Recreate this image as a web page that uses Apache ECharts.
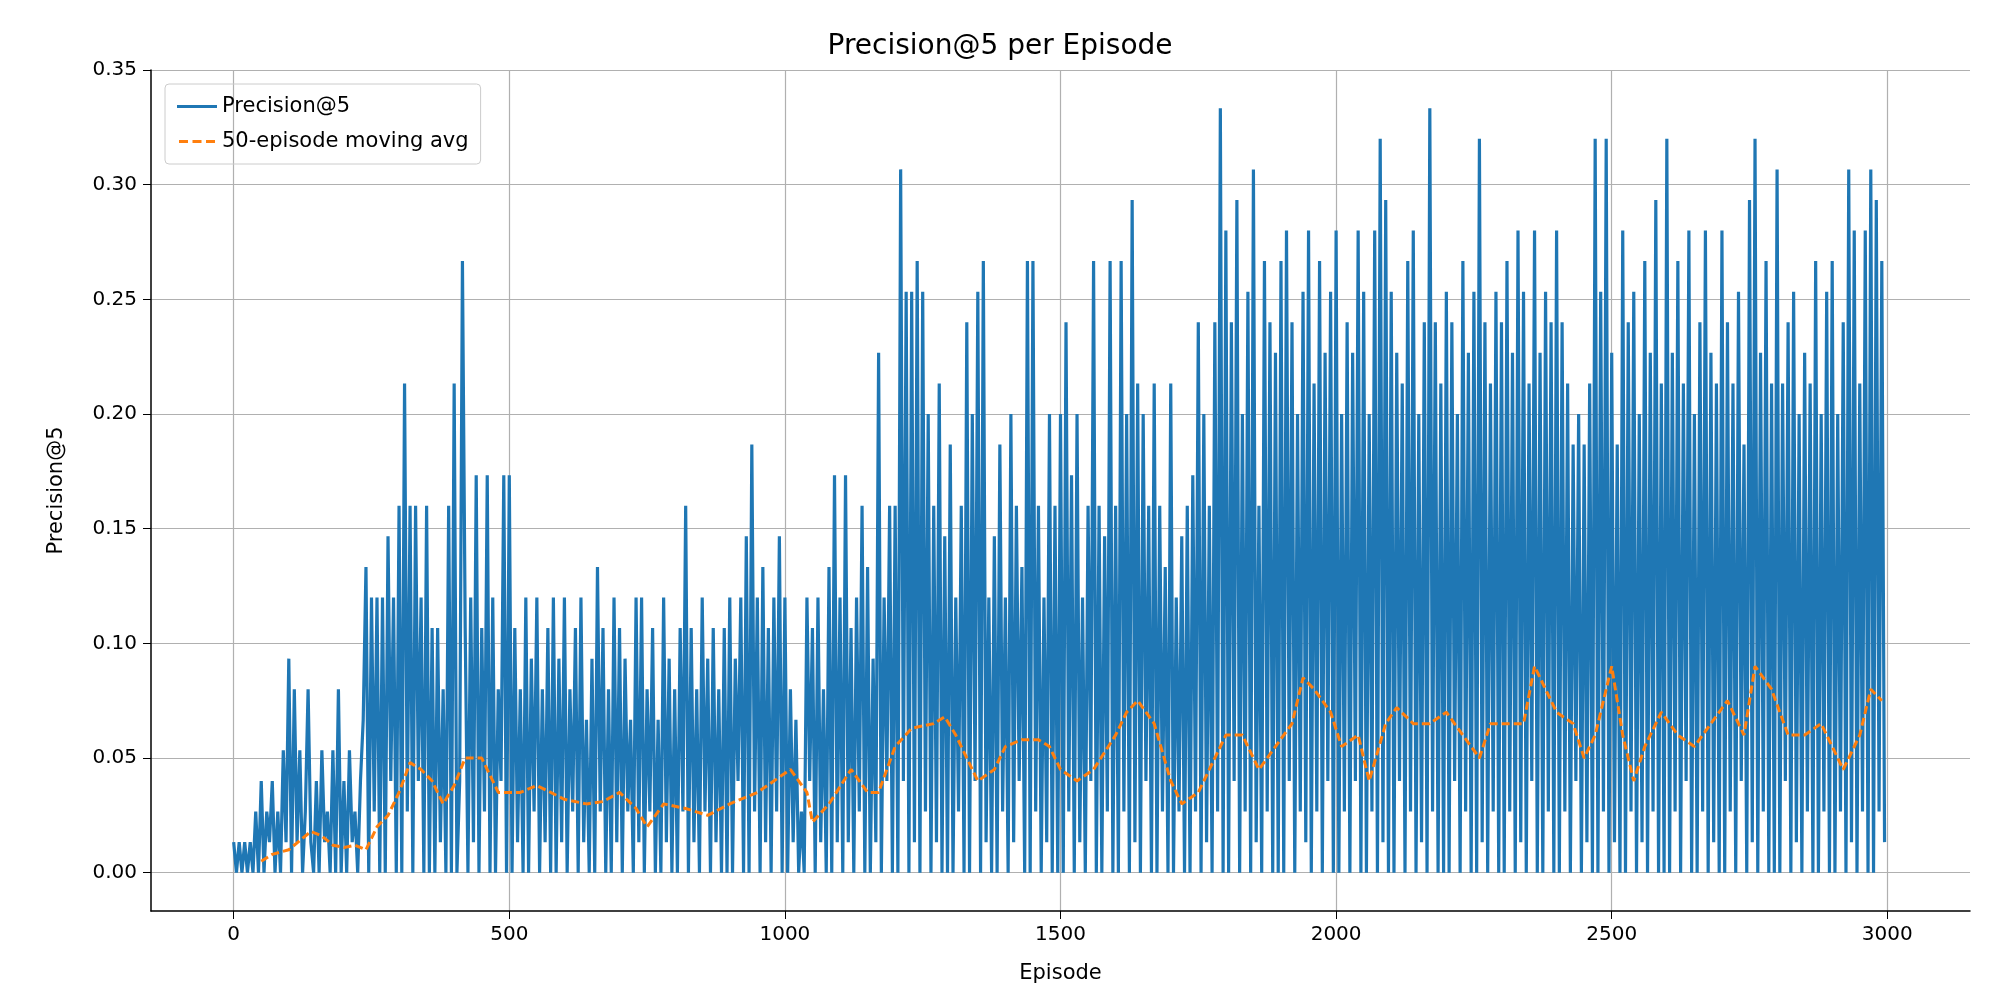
<!DOCTYPE html>
<html>
<head>
<meta charset="utf-8">
<script src="https://cdn.jsdelivr.net/npm/echarts@6/dist/echarts.min.js"></script>
<style>
  html, body { margin: 0; padding: 0; background: #fff; }
  #chart { width: 2000px; height: 1000px; }
</style>
</head>
<body>
<div id="chart"></div>
<script>
// precision@5 per episode, stored as hits out of 75 (value = k / 75), one value every 5 episodes
var STEP = 5;
var hits = [
  1,0,1,0,1,0,1,0,2,0,3,0,2,1,3,0,2,0,4,1,
  7,0,6,1,4,0,2,6,1,0,3,0,4,1,2,0,4,0,6,0,
  3,0,4,1,2,0,3,5,10,0,9,2,9,0,9,0,11,3,9,0,
  12,0,16,2,12,0,12,3,9,0,12,0,8,0,8,1,6,0,12,0,
  16,0,3,20,8,0,9,1,13,0,8,2,13,0,9,0,6,3,13,0,
  13,0,8,1,6,0,9,0,7,2,9,0,6,1,8,0,9,0,7,1,
  9,0,6,2,8,0,9,1,5,0,7,0,10,2,8,0,6,0,9,1,
  8,0,7,2,5,0,9,1,9,0,6,2,8,0,5,0,9,1,7,0,
  6,0,8,2,12,0,8,1,6,0,9,2,7,0,8,1,6,0,8,0,
  9,0,7,3,9,0,11,0,14,2,9,0,10,1,8,0,9,2,11,0,
  9,0,6,1,5,0,2,0,9,3,8,0,9,1,6,0,10,0,13,1,
  9,0,13,1,8,0,9,2,12,0,10,0,7,1,17,0,9,3,12,0,
  12,0,23,3,19,0,19,1,20,0,19,2,15,0,12,1,16,0,11,0,
  14,0,9,2,12,0,18,0,15,3,19,0,20,1,9,0,11,0,14,2,
  9,0,15,1,12,3,10,0,20,0,20,2,12,0,9,1,15,0,12,0,
  15,0,18,2,13,0,15,1,9,0,12,3,20,0,12,0,11,2,20,0,
  12,0,20,2,15,0,22,1,16,0,15,3,12,0,16,0,12,2,10,0,
  16,0,9,2,11,0,12,0,13,2,18,0,15,1,12,0,18,2,25,0,
  21,0,18,3,22,0,15,2,19,0,23,1,12,0,20,2,18,0,17,0,
  20,0,21,3,18,0,15,2,19,1,21,0,16,2,20,0,17,3,19,0,
  21,0,15,2,18,0,17,3,21,0,19,0,15,2,21,0,24,1,22,0,
  19,0,17,3,16,0,20,2,21,0,15,1,18,0,25,2,18,0,16,0,
  19,0,18,3,15,0,20,2,17,0,19,0,24,1,18,0,16,2,19,0,
  18,0,20,2,17,0,21,1,19,0,16,3,21,0,17,0,19,2,18,0,
  21,0,18,2,16,0,14,3,15,0,14,1,16,0,24,0,19,2,24,0,
  17,1,14,0,21,0,18,2,19,0,15,1,20,0,17,2,22,0,16,0,
  24,0,17,2,20,0,16,3,21,0,15,0,18,2,21,0,17,1,16,0,
  21,0,18,2,16,0,19,3,14,0,22,1,24,0,17,2,20,0,16,0,
  23,0,16,3,18,0,19,1,15,0,17,2,16,0,20,0,15,2,19,0,
  20,0,15,2,18,0,23,1,21,0,16,2,21,0,23,0,22,2,20,1
];

// 50-episode moving average
var avgEpisodes = [50,70,100,120,140,160,180,200,220,240,260,280,300,320,340,360,380,400,420,450,
  480,520,550,600,640,670,700,730,750,780,820,860,900,950,980,1010,1040,1050,1080,1120,
  1150,1170,1200,1230,1270,1290,1310,1350,1380,1400,1430,1460,1480,1500,1530,1560,1600,1620,1640,1670,
  1700,1720,1750,1780,1800,1830,1860,1890,1920,1940,1960,1990,2010,2040,2060,2090,2110,2140,2170,2200,
  2230,2260,2280,2310,2340,2360,2380,2400,2430,2450,2470,2500,2520,2540,2560,2590,2620,2650,2680,2710,
  2740,2760,2790,2820,2850,2880,2900,2920,2950,2970,2990];
var avgValues = [0.005,0.008,0.010,0.014,0.018,0.016,0.012,0.011,0.012,0.010,0.020,0.025,0.035,0.048,0.045,0.040,0.030,0.038,0.050,0.050,
  0.035,0.035,0.038,0.032,0.030,0.031,0.035,0.028,0.020,0.030,0.028,0.025,0.030,0.035,0.040,0.045,0.035,0.022,0.030,0.045,
  0.035,0.035,0.055,0.063,0.065,0.068,0.060,0.040,0.045,0.055,0.058,0.058,0.055,0.045,0.040,0.045,0.060,0.070,0.075,0.065,
  0.040,0.030,0.035,0.050,0.060,0.060,0.045,0.055,0.065,0.085,0.080,0.070,0.055,0.060,0.040,0.065,0.072,0.065,0.065,0.070,
  0.060,0.050,0.065,0.065,0.065,0.090,0.080,0.070,0.065,0.050,0.060,0.090,0.060,0.040,0.055,0.070,0.060,0.055,0.065,0.075,
  0.060,0.090,0.080,0.060,0.060,0.065,0.055,0.045,0.060,0.080,0.075];

var xTicks = [0, 500, 1000, 1500, 2000, 2500, 3000];
var yTicks = [0, 0.05, 0.10, 0.15, 0.20, 0.25, 0.30, 0.35];

var precisionData = hits.map(function (k, i) { return [i * STEP, k / 75]; });
var avgData = avgEpisodes.map(function (e, i) { return [e, avgValues[i]]; });

var chart = echarts.init(document.getElementById('chart'));
var font = 'DejaVu Sans';
chart.setOption({
  animation: false,
  textStyle: { fontFamily: font },
  title: {
    text: 'Precision@5 per Episode',
    left: 'center', top: 28,
    textStyle: { fontFamily: font, fontSize: 28, fontWeight: 'normal', color: '#000' }
  },
  legend: {
    orient: 'vertical', left: 165, top: 84,
    padding: [12, 12], itemGap: 14,
    itemWidth: 40, itemHeight: 3,
    borderColor: '#ccc', borderWidth: 1, borderRadius: 4,
    textStyle: { fontFamily: font, fontSize: 21, color: '#000' },
    data: [
      { name: 'Precision@5', icon: 'rect' },
      { name: '50-episode moving avg', icon: 'path://M0,0h3v1h-3z M4.5,0h3v1h-3z M9,0h3v1h-3z' }
    ]
  },
  grid: { left: 151, right: 30, top: 70, bottom: 89 },
  xAxis: {
    type: 'value', min: -150, max: 3150, name: 'Episode',
    nameLocation: 'middle', nameGap: 52,
    nameTextStyle: { fontSize: 21, color: '#000' },
    axisLine: { show: true, onZero: false, lineStyle: { color: '#000', width: 1.5 } },
    axisTick: { show: true, length: 8, customValues: xTicks, lineStyle: { color: '#000' } },
    axisLabel: { customValues: xTicks, fontSize: 20, color: '#000', margin: 14,
      formatter: function (v) { return String(v); } },
    splitLine: { show: true, lineStyle: { color: '#b0b0b0', width: 1.2 } }
  },
  yAxis: {
    type: 'value', min: -0.0167, max: 0.35, name: 'Precision@5',
    nameLocation: 'middle', nameGap: 84,
    nameTextStyle: { fontSize: 21, color: '#000' },
    axisLine: { show: true, onZero: false, lineStyle: { color: '#000', width: 1.5 } },
    axisTick: { show: true, length: 8, customValues: yTicks, lineStyle: { color: '#000' } },
    axisLabel: { customValues: yTicks, fontSize: 20, color: '#000', margin: 14,
      formatter: function (v) { return v.toFixed(2); } },
    splitLine: { show: true, lineStyle: { color: '#b0b0b0', width: 1.2 } }
  },
  series: [
    {
      name: 'Precision@5', type: 'line', data: precisionData,
      showSymbol: false, symbol: 'none',
      lineStyle: { color: '#1f77b4', width: 3.2 }, itemStyle: { color: '#1f77b4' }
    },
    {
      name: '50-episode moving avg', type: 'line', data: avgData,
      showSymbol: false, symbol: 'none',
      lineStyle: { color: '#ff7f0e', width: 3, type: [8, 4] }, itemStyle: { color: '#ff7f0e' }
    }
  ]
});
</script>
</body>
</html>
